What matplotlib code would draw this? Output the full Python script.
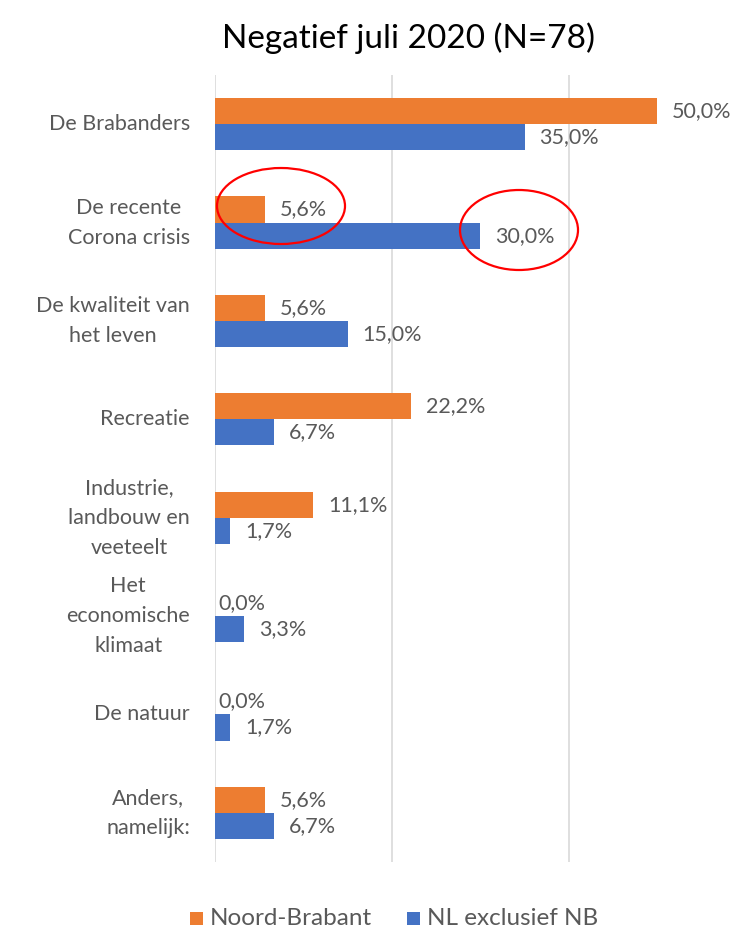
import matplotlib
matplotlib.use("Agg")
import matplotlib.pyplot as plt
from matplotlib.patches import Ellipse, Rectangle
import numpy as np

categories = ["De Brabanders", "De recente\nCorona crisis", "De kwaliteit van\nhet leven",
              "Recreatie", "Industrie,\nlandbouw en\nveeteelt", "Het\neconomische\nklimaat",
              "De natuur", "Anders,\nnamelijk:"]
noord_brabant = [50.0, 5.6, 5.6, 22.2, 11.1, 0.0, 0.0, 5.6]
nl_excl_nb = [35.0, 30.0, 15.0, 6.7, 1.7, 3.3, 1.7, 6.7]
series_names = ["Noord-Brabant", "NL exclusief NB"]
title = "Negatief juli 2020 (N=78)"

ORANGE = "#ED7D31"
BLUE = "#4472C4"
TXT = "#595959"
GRID = "#D9D9D9"
FONT = ["Lato", "DejaVu Sans"]

plt.rcParams['font.family'] = FONT

W, H = 736, 930
fig = plt.figure(figsize=(W/100, H/100), dpi=100)
ax = fig.add_axes([215/W, 1-862/H, (W-215)/W, (862-75)/H])

y = np.arange(len(categories))
bh = 0.265
vals_nb = np.array(noord_brabant)/100
vals_nl = np.array(nl_excl_nb)/100
ax.barh(y - bh/2, vals_nb, height=bh, color=ORANGE, zorder=3)
ax.barh(y + bh/2, vals_nl, height=bh, color=BLUE, zorder=3)

ax.set_xlim(0, 0.589)
ax.set_ylim(len(categories)-0.5, -0.5)
ax.set_xticks([0, 0.2, 0.4])
ax.xaxis.grid(True, color=GRID, linewidth=1.2, zorder=0)
ax.tick_params(axis='x', length=0, labelbottom=False)
ax.tick_params(axis='y', length=0, labelleft=False)
for s in ax.spines.values():
    s.set_visible(False)

def fmt(v):
    return f"{v:.1f}%".replace(".", ",")

for vals, pcts, off in ((vals_nb, noord_brabant, -bh/2), (vals_nl, nl_excl_nb, bh/2)):
    for i, (v, p) in enumerate(zip(vals, pcts)):
        dx = 15 if v > 0 else 3
        ax.annotate(fmt(p), (v, i + off), xytext=(dx, 0), textcoords='offset pixels',
                    va='center', ha='left', fontsize=15.5, color=TXT, annotation_clip=False)

for i, c in enumerate(categories):
    ax.annotate(c, (0, i), xytext=(-25, 0), textcoords='offset pixels',
                va='center', ha='right', multialignment='center', fontsize=15.5,
                color=TXT, linespacing=1.62)

fig.text(408/W, 1-38/H, title, ha='center', va='center', fontsize=24, color="#000000")

# red annotation ellipses
for cx, cy, ew, eh in ((281, 206, 128, 76), (519, 230, 118, 80)):
    fig.add_artist(Ellipse((cx/W, 1-cy/H), ew/W, eh/H, transform=fig.transFigure,
                           fill=False, edgecolor="#FF0000", linewidth=1.6))

# legend
for sx, color, name in ((190, ORANGE, series_names[0]), (407, BLUE, series_names[1])):
    fig.add_artist(Rectangle((sx/W, 1-925/H), 13/W, 13/H, transform=fig.transFigure,
                             facecolor=color, edgecolor='none'))
    fig.text((sx+20)/W, 1-918/H, name, ha='left', va='center', fontsize=17.5, color=TXT)

fig.savefig("out.png", dpi=100)
